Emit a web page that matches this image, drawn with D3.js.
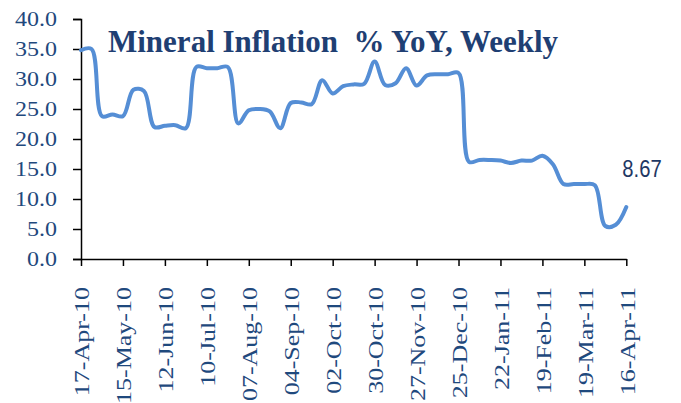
<!DOCTYPE html>
<html>
<head>
<meta charset="utf-8">
<script src="https://cdn.jsdelivr.net/npm/d3@7"></script>
<style>
  body { margin: 0; background: #fff; }
  svg { display: block; }
</style>
</head>
<body>
<svg id="chart"></svg>
<script>
var w = 681;
var h = 403;

// weekly mineral inflation, % YoY, 17-Apr-10 .. 16-Apr-11
var values = [34.8, 35.0, 23.8, 24.1, 23.8, 28.2, 28.0, 22.0, 22.2, 22.3,
  21.8, 32.0, 31.8, 31.8, 32.0, 22.6, 24.8, 25.0, 24.6, 21.8,
  26.0, 26.1, 25.8, 29.8, 27.6, 28.8, 29.1, 29.2, 32.9, 29.0,
  29.3, 31.8, 28.9, 30.6, 30.8, 30.8, 31.0, 16.2, 16.5, 16.5,
  16.4, 16.0, 16.4, 16.4, 17.2, 15.8, 12.5, 12.5, 12.5, 12.3,
  5.5, 5.7, 8.67];

var tickLabels = ['17-Apr-10', '15-May-10', '12-Jun-10', '10-Jul-10', '07-Aug-10',
  '04-Sep-10', '02-Oct-10', '30-Oct-10', '27-Nov-10', '25-Dec-10',
  '22-Jan-11', '19-Feb-11', '19-Mar-11', '16-Apr-11'];

var yTicks = [0, 5, 10, 15, 20, 25, 30, 35, 40];

var labelColor = '#1F497D';
var serif = '"Liberation Serif", "Times New Roman", Times, serif';

var svg = d3.select('#chart').attr('width', w).attr('height', h);

var x = d3.scaleLinear().domain([0, values.length - 1]).range([81, 626.3]);
var y = d3.scaleLinear().domain([0, 40]).range([259, 19]);

// y axis
var yAxis = svg.append('g')
  .attr('transform', 'translate(81,0)')
  .call(d3.axisLeft(y).tickValues(yTicks).tickSize(8).tickFormat(d3.format('.1f')));

yAxis.select('.domain').attr('stroke', '#000').attr('stroke-width', 1.5);
yAxis.selectAll('.tick line').attr('stroke', '#000').attr('stroke-width', 1.5);
yAxis.selectAll('.tick text')
  .attr('x', null)
  .attr('dy', null)
  .attr('text-anchor', 'end')
  .attr('dominant-baseline', 'central')
  .attr('transform', 'translate(-24,0) scale(1.2,1)')
  .style('font-family', serif)
  .style('font-size', '20px')
  .attr('fill', labelColor);

// x axis
var xTicks = d3.range(0, values.length, 4);

var xAxis = svg.append('g')
  .attr('transform', 'translate(0,259)')
  .call(d3.axisBottom(x).tickValues(xTicks).tickSize(7).tickSizeOuter(0)
    .tickFormat(function (d, i) { return tickLabels[i]; }));

xAxis.select('.domain').attr('stroke', '#000').attr('stroke-width', 1.5);
xAxis.selectAll('.tick line').attr('stroke', '#000').attr('stroke-width', 1.5);
xAxis.selectAll('.tick text')
  .attr('y', null)
  .attr('dy', null)
  .attr('text-anchor', 'end')
  .attr('dominant-baseline', 'central')
  .attr('transform', 'translate(1,28) rotate(-90) scale(1.3,1)')
  .style('font-family', serif)
  .style('font-size', '20px')
  .attr('fill', labelColor);

// the series
var line = d3.line()
  .x(function (d, i) { return x(i); })
  .y(function (d) { return y(d); })
  .curve(d3.curveCatmullRom.alpha(0.5));

svg.append('path')
  .datum(values)
  .attr('d', line)
  .attr('fill', 'none')
  .attr('stroke', '#558ED5')
  .attr('stroke-width', 4)
  .attr('stroke-linejoin', 'round')
  .attr('stroke-linecap', 'round');

// last value label
var last = values[values.length - 1];
var lx = x(values.length - 1) - 4;
svg.append('text')
  .attr('x', 0)
  .attr('y', 177)
  .attr('transform', 'translate(' + lx + ',0) scale(0.88,1)')
  .style('font-family', '"Liberation Sans", Arial, sans-serif')
  .style('font-size', '23px')
  .attr('fill', '#1F3864')
  .text(d3.format('.2f')(last));

// title
svg.append('text')
  .attr('x', 108)
  .attr('y', 52)
  .style('font-family', serif)
  .style('font-size', '31px')
  .style('font-weight', 'bold')
  .style('white-space', 'pre')
  .attr('fill', '#1F3F73')
  .text('Mineral Inflation  % YoY, Weekly');
</script>
</body>
</html>
